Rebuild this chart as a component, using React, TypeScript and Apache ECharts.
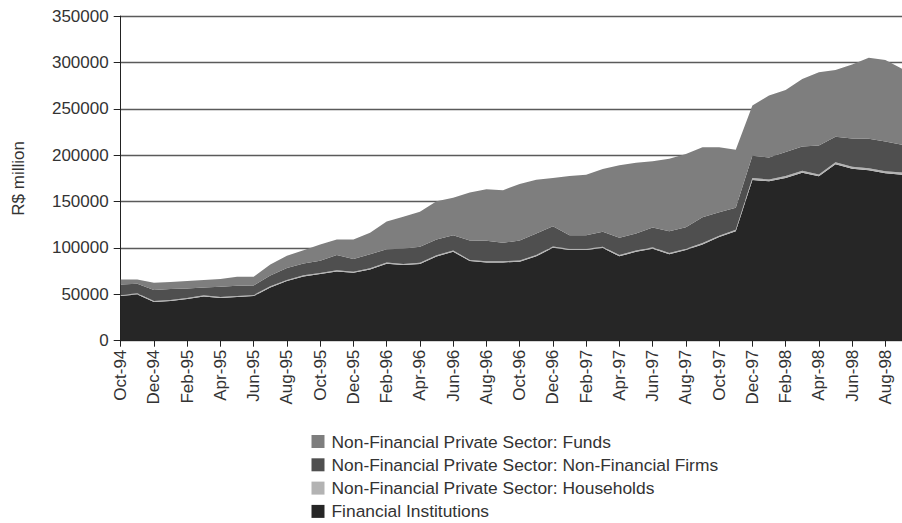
import React, { useEffect, useRef } from "react";
import * as echarts from "echarts";

const months = [
  "Oct-94", "Nov-94", "Dec-94", "Jan-95", "Feb-95", "Mar-95", "Apr-95", "May-95", "Jun-95", "Jul-95", "Aug-95", "Sep-95",
  "Oct-95", "Nov-95", "Dec-95", "Jan-96", "Feb-96", "Mar-96", "Apr-96", "May-96", "Jun-96", "Jul-96", "Aug-96", "Sep-96",
  "Oct-96", "Nov-96", "Dec-96", "Jan-97", "Feb-97", "Mar-97", "Apr-97", "May-97", "Jun-97", "Jul-97", "Aug-97", "Sep-97",
  "Oct-97", "Nov-97", "Dec-97", "Jan-98", "Feb-98", "Mar-98", "Apr-98", "May-98", "Jun-98", "Jul-98", "Aug-98", "Sep-98",
];

const financialInstitutions = [
  48100, 49900, 41600, 42700, 44900, 47700, 46000, 47000, 48100, 57400, 64300, 69300,
  71800, 74700, 73200, 76800, 82900, 81500, 82600, 90800, 95900, 85800, 84400, 84400,
  85200, 90900, 100200, 97700, 97700, 99900, 90900, 95900, 99200, 93100, 97700, 103800,
  111700, 118100, 173300, 171800, 175400, 181100, 177200, 190100, 185400, 183700, 180400, 179000,
];

const households = [
  1200, 1200, 1200, 1200, 1200, 1200, 1200, 1200, 1200, 1200, 1200, 1200,
  1200, 1200, 1200, 1300, 1300, 1300, 1300, 1300, 1300, 1300, 1300, 1300,
  1300, 1400, 1400, 1400, 1400, 1400, 1400, 1400, 1400, 1400, 1500, 1500,
  1500, 1500, 2000, 2000, 2000, 2000, 2000, 2200, 2200, 2200, 2200, 2200,
];

const nonFinancialFirms = [
  11400, 10300, 11800, 11700, 10300, 8500, 11000, 11000, 10300, 11800, 12800, 12800,
  13200, 16400, 13600, 15200, 14500, 16300, 17300, 17000, 16600, 21000, 22000, 19800,
  21500, 23300, 21900, 14700, 14700, 16100, 18700, 18300, 21500, 23600, 23200, 27900,
  25300, 23600, 24100, 23800, 25900, 26300, 31300, 27500, 30400, 31800, 32200, 30000,
];

const funds = [
  5300, 4600, 7900, 7600, 7900, 7900, 8200, 9700, 9300, 11800, 13200, 14300,
  17600, 16800, 21100, 23000, 29800, 34400, 37700, 41300, 40200, 51700, 55600, 56800,
  61000, 58000, 51900, 63800, 65200, 67700, 78000, 76300, 71200, 78100, 78800, 75200,
  69900, 62700, 54100, 66600, 67000, 72700, 78800, 72000, 79700, 87300, 87700, 82000,
];

const yTicks = [0, 50000, 100000, 150000, 200000, 250000, 300000, 350000];

const seriesNames = [
  "Financial Institutions",
  "Non-Financial Private Sector: Households",
  "Non-Financial Private Sector: Non-Financial Firms",
  "Non-Financial Private Sector: Funds",
];
const seriesColors = ["#262626", "#b3b3b3", "#4f4f4f", "#7e7e7e"];
const seriesData = [financialInstitutions, households, nonFinancialFirms, funds];

const FONT = "'Liberation Sans', Arial, Helvetica, sans-serif";

export default function App() {
  const ref = useRef<HTMLDivElement>(null);
  useEffect(() => {
    if (!ref.current) return;
    const chart = echarts.init(ref.current, undefined, { renderer: "svg" });
    chart.setOption({
      animation: false,
      textStyle: { fontFamily: FONT },
      grid: { left: 120.7, right: -3.5, top: 16, bottom: 182.3, containLabel: false },
      legend: {
        orient: "vertical",
        left: 311.5,
        top: 433,
        height: 90,
        itemWidth: 13,
        itemHeight: 13,
        itemGap: 6.3,
        icon: "rect",
        padding: 0,
        data: [seriesNames[3], seriesNames[2], seriesNames[1], seriesNames[0]],
        textStyle: { fontSize: 17.4, color: "#333", fontFamily: FONT, lineHeight: 17, padding: [0, 0, 0, 2] },
      },
      xAxis: {
        type: "category",
        data: months,
        boundaryGap: false,
        axisLine: { show: true, lineStyle: { color: "#222", width: 1 } },
        axisTick: { show: true, interval: 1, length: 6, lineStyle: { color: "#222" } },
        axisLabel: { interval: 1, rotate: 90, margin: 9, fontSize: 17, color: "#333", fontFamily: FONT },
        splitLine: { show: false },
      },
      yAxis: {
        type: "value",
        min: yTicks[0],
        max: yTicks[yTicks.length - 1],
        interval: 50000,
        name: "R$ million",
        nameLocation: "middle",
        nameRotate: 90,
        nameGap: 94,
        nameTextStyle: { fontSize: 17, color: "#333", fontFamily: FONT },
        axisLine: { show: true, lineStyle: { color: "#222", width: 1 } },
        axisTick: { show: true, length: 7, lineStyle: { color: "#222" } },
        axisLabel: {
          margin: 12,
          fontSize: 17,
          color: "#333",
          fontFamily: FONT,
          formatter: (v: number) => String(v),
        },
        splitLine: { show: true, lineStyle: { color: "#5a5a5a", width: 1.3 } },
      },
      series: seriesNames.map((name, i) => ({
        name,
        type: "line",
        stack: "total",
        data: seriesData[i],
        showSymbol: false,
        symbol: "none",
        lineStyle: { width: 0 },
        itemStyle: { color: seriesColors[i] },
        areaStyle: { color: seriesColors[i], opacity: 1 },
      })),
    });
    return () => chart.dispose();
  }, []);
  return (
    <div
      ref={ref}
      style={{ position: "fixed", left: 0, top: 0, width: 902, height: 523, background: "#fff" }}
    />
  );
}
